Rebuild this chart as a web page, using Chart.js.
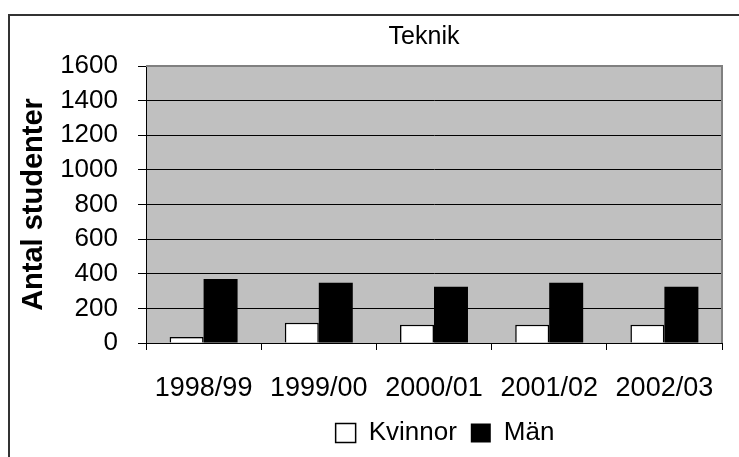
<!DOCTYPE html>
<html>
<head>
<meta charset="utf-8">
<script src="https://cdn.jsdelivr.net/npm/chart.js@4.4.1/dist/chart.umd.min.js"></script>
<style>
  html, body { margin: 0; padding: 0; background: #fff; }
  #wrap { position: relative; width: 739px; height: 457px; }
  #frame { position: absolute; left: 8px; top: 14px; right: 0; bottom: 0;
           border-left: 2px solid #333; border-top: 2px solid #333; pointer-events: none; }
</style>
</head>
<body>
<div id="wrap">
  <canvas id="tekChart" width="739" height="457"></canvas>
  <div id="frame"></div>
</div>
<script>
const years = ["1998/99", "1999/00", "2000/01", "2001/02", "2002/03"];
const kvinnor = [35, 117, 105, 105, 105];
const man = [370, 348, 325, 348, 325];
const yTicks = [0, 200, 400, 600, 800, 1000, 1200, 1400, 1600];

const FONT = "'Liberation Sans', Arial, sans-serif";
Chart.defaults.font.family = FONT;
Chart.defaults.color = "#000";

// grey plot background + grey top/right frame like the old spreadsheet chart
const plotBox = {
  id: "plotBox",
  beforeDraw(chart) {
    const a = chart.chartArea;
    const ctx = chart.ctx;
    ctx.save();
    ctx.fillStyle = "#c0c0c0";
    ctx.fillRect(a.left, a.top, a.right - a.left, a.bottom - a.top);
    ctx.restore();
  },
  beforeDatasetsDraw(chart) {
    const a = chart.chartArea;
    const ctx = chart.ctx;
    ctx.save();
    ctx.strokeStyle = "#808080";
    ctx.lineWidth = 2;
    ctx.beginPath();
    ctx.moveTo(a.left, a.top);
    ctx.lineTo(a.right, a.top);
    ctx.lineTo(a.right, a.bottom);
    ctx.stroke();
    ctx.restore();
  },
  afterLayout(chart) {
    // nudge title / legend to where they sit in the original
    if (chart.titleBlock) { chart.titleBlock.left -= 10; chart.titleBlock.right -= 10; }
    if (chart.legend) { chart.legend.left += 11; chart.legend.right += 11; }
  }
};

const ctx = document.getElementById("tekChart").getContext("2d");
new Chart(ctx, {
  type: "bar",
  data: {
    labels: years,
    datasets: [
      {
        label: "Kvinnor",
        data: kvinnor,
        backgroundColor: "#ffffff",
        borderColor: "#000000",
        borderWidth: 1.5,
        categoryPercentage: 0.59,
        barPercentage: 1.0
      },
      {
        label: "Män",
        data: man,
        backgroundColor: "#000000",
        borderColor: "#000000",
        borderWidth: 0,
        categoryPercentage: 0.59,
        barPercentage: 1.0
      }
    ]
  },
  options: {
    responsive: false,
    animation: false,
    layout: { padding: { left: 0, top: 0, right: 17, bottom: 1 } },
    plugins: {
      tooltip: { enabled: false },
      title: {
        display: true,
        text: "Teknik",
        fullSize: false,
        color: "#000",
        font: { size: 25, weight: "normal" },
        padding: { top: 22, bottom: 14 }
      },
      legend: {
        display: true,
        position: "bottom",
        fullSize: false,
        labels: {
          color: "#000",
          font: { size: 26 },
          boxWidth: 20,
          boxHeight: 19,
          padding: 14
        }
      }
    },
    scales: {
      x: {
        grid: {
          display: true,
          drawOnChartArea: false,
          drawTicks: true,
          tickLength: 7,
          color: "#000",
          offset: true
        },
        border: { display: true, color: "#000", width: 1 },
        ticks: { font: { size: 27 }, color: "#000", padding: 22, maxRotation: 0 },
        afterFit(scale) { scale.height = 63; }
      },
      y: {
        min: 0,
        max: 1600,
        afterBuildTicks(scale) { scale.ticks = yTicks.map(v => ({ value: v })); },
        grid: { color: "#000", lineWidth: 1, tickLength: 8 },
        border: { display: true, color: "#000", width: 1 },
        ticks: {
          font: { size: 26 },
          color: "#000",
          padding: 20,
          callback: (v) => String(v)
        },
        title: {
          display: true,
          text: "Antal studenter",
          color: "#000",
          font: { size: 29, weight: "bold" },
          padding: { top: 17, bottom: 0 }
        },
        afterFit(scale) { scale.width = 146; }
      }
    }
  },
  plugins: [plotBox]
});
</script>
</body>
</html>
